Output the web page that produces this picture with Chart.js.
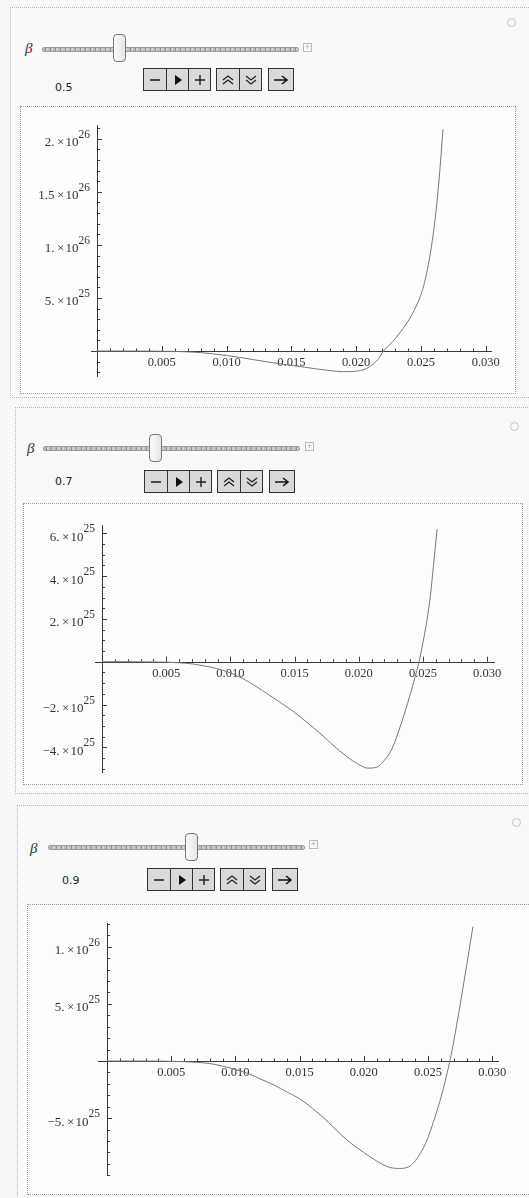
<!DOCTYPE html>
<html>
<head>
<meta charset="utf-8">
<script src="https://cdn.jsdelivr.net/npm/chart.js@4.4.1/dist/chart.umd.min.js"></script>
<style>
  body { margin:0; width:529px; height:1198px; background:#f7f7f6; position:relative; overflow:hidden; font-family:"DejaVu Sans", sans-serif; }
  .outer { position:absolute; border:1px dotted #b8b8b8; border-right:none; background:#f9f9f8; }
  .inner { position:absolute; border:1px dotted #9a9a9a; background:#fdfdfd; }
  .beta { position:absolute; font-family:"Liberation Serif", serif; font-style:italic; font-size:15px; color:#333; }
  .track { position:absolute; height:3px; border:1px solid #9c9c9c; border-radius:2px;
           background:repeating-linear-gradient(90deg,#bdbdbd 0 2px,#8f8f8f 2px 3px,#cfcfcf 3px 5px); }
  .thumb { position:absolute; width:11px; height:26px; border:1px solid #777; border-radius:4px;
           background:linear-gradient(90deg,#fafafa,#e6e6e6); }
  .plusbox { position:absolute; width:7px; height:7px; border:1px solid #bbb; font-size:7px; line-height:7px; text-align:center; color:#aaa; }
  .val { position:absolute; font-size:11px; color:#222; }
  .grp { position:absolute; display:flex; border:1.5px solid #333; height:21px; background:#d9d9d9; }
  .btn { width:22px; height:21px; display:flex; align-items:center; justify-content:center; border-left:1px solid #333; box-sizing:border-box; }
  .btn:first-child { border-left:none; }
  .circ { position:absolute; width:7px; height:7px; border:1px solid #c4c4c4; border-radius:50%; }
  canvas { position:absolute; }
</style>
</head>
<body>

<div class="outer" style="left:10px;top:7px;width:530px;height:389px"></div>
<div class="outer" style="left:15px;top:407px;width:530px;height:385px"></div>
<div class="outer" style="left:17px;top:805px;width:530px;height:400px"></div>

<div class="inner" style="left:20px;top:106px;width:494px;height:286px"></div>
<div class="inner" style="left:23px;top:503px;width:498px;height:280px"></div>
<div class="inner" style="left:27px;top:904px;width:510px;height:289px"></div>

<div id="controls"></div>

<canvas id="c1" width="494" height="286" style="left:20px;top:106px"></canvas>
<canvas id="c2" width="498" height="280" style="left:23px;top:503px"></canvas>
<canvas id="c3" width="500" height="289" style="left:27px;top:904px"></canvas>

<script>
// β values shown in the three panels
const betaValues = ['0.5', '0.7', '0.9']

// x tick labels (shared by all three plots)
const xTicks = [0.005, 0.010, 0.015, 0.020, 0.025, 0.030]
const xTickLabels = ['0.005', '0.010', '0.015', '0.020', '0.025', '0.030']

// y values are stored in units of 1e25
const UNIT = 1e25

// β = 0.5
const xs1 = [0, 0.002, 0.004, 0.006, 0.007, 0.008, 0.009, 0.010, 0.011, 0.012, 0.013, 0.014, 0.015, 0.016, 0.017,
  0.018, 0.019, 0.020, 0.0207, 0.0213, 0.0218, 0.0221, 0.0226, 0.0231, 0.0236, 0.0241, 0.0245, 0.0249, 0.0252,
  0.0255, 0.0258, 0.0261, 0.0264, 0.0267]
const ys1 = [0, 0, -0.01, -0.04, -0.08, -0.15, -0.28, -0.42, -0.6, -0.8, -1.0, -1.18, -1.35, -1.52, -1.7,
  -1.85, -1.95, -1.9, -1.7, -1.25, -0.6, 0, 0.6, 1.3, 2.1, 3.0, 3.9, 5.0, 6.1,
  7.7, 9.8, 12.5, 16.2, 20.9]

// β = 0.7
const xs2 = [0, 0.002, 0.004, 0.005, 0.006, 0.007, 0.008, 0.009, 0.010, 0.011, 0.012, 0.013, 0.014, 0.015, 0.016,
  0.017, 0.018, 0.019, 0.020, 0.0207, 0.0214, 0.022, 0.0226, 0.0233, 0.0238, 0.0243, 0.0247, 0.025, 0.0253,
  0.0256, 0.0258, 0.0261]
const ys2 = [0, 0, -0.01, -0.02, -0.05, -0.1, -0.2, -0.33, -0.52, -0.8, -1.15, -1.55, -1.95, -2.37, -2.85,
  -3.35, -3.9, -4.4, -4.8, -4.97, -4.93, -4.6, -4.05, -2.9, -1.95, -0.9, 0, 0.9, 1.9,
  3.2, 4.4, 6.2]

// β = 0.9
const xs3 = [0, 0.002, 0.004, 0.005, 0.006, 0.007, 0.008, 0.009, 0.010, 0.011, 0.012, 0.013, 0.014, 0.015, 0.016,
  0.017, 0.018, 0.019, 0.020, 0.021, 0.022, 0.0228, 0.0237, 0.0246, 0.0250, 0.0254, 0.0258, 0.0262, 0.0265,
  0.0268, 0.0271, 0.0275, 0.0279, 0.0285]
const ys3 = [0, 0, -0.01, -0.03, -0.06, -0.12, -0.22, -0.45, -0.75, -1.1, -1.6, -2.1, -2.7, -3.3, -4.15,
  -5.1, -6.2, -7.2, -8.0, -8.75, -9.3, -9.4, -9.1, -7.7, -6.7, -5.4, -4.0, -2.4, -1.0,
  0.5, 2.3, 4.9, 7.6, 11.75]

// y tick marks: value, mantissa, exponent
const yTicks1 = [5e25, 1e26, 1.5e26, 2e26]
const yMant1 = ['5.', '1.', '1.5', '2.']
const yExp1 = ['25', '26', '26', '26']

const yTicks2 = [-4e25, -2e25, 2e25, 4e25, 6e25]
const yMant2 = ['\u22124.', '\u22122.', '2.', '4.', '6.']
const yExp2 = ['25', '25', '25', '25', '25']

const yTicks3 = [-5e25, 5e25, 1e26]
const yMant3 = ['\u22125.', '5.', '1.']
const yExp3 = ['25', '25', '26']

// ---- controls (slider + animator buttons), plain DOM
const panels = [
  {beta: [25, 40], track: [42, 47, 255], thumb: [113, 34], plus: [303, 43], val: [55, 81], btn: [143, 68], circ: [507, 18]},
  {beta: [27, 440], track: [43, 446, 255], thumb: [149, 434], plus: [305, 442], val: [55, 475], btn: [144, 470], circ: [510, 422]},
  {beta: [30, 840], track: [48, 845, 255], thumb: [185, 833], plus: [309, 840], val: [62, 874], btn: [147, 868], circ: [512, 818]}
]

const chev = (up) => up
  ? '<svg width="12" height="12"><path d="M1 6 L6 2 L11 6 M1 10 L6 6 L11 10" stroke="#222" stroke-width="1.3" fill="none"/></svg>'
  : '<svg width="12" height="12"><path d="M1 2 L6 6 L11 2 M1 6 L6 10 L11 6" stroke="#222" stroke-width="1.3" fill="none"/></svg>'
const minus = '<svg width="12" height="12"><path d="M1 6 H11" stroke="#222" stroke-width="1.6"/></svg>'
const play = '<svg width="10" height="12"><path d="M2 1 L9 6 L2 11 Z" fill="#111"/></svg>'
const plus = '<svg width="12" height="12"><path d="M1 6 H11 M6 1 V11" stroke="#222" stroke-width="1.4"/></svg>'
const arrow = '<svg width="16" height="12"><path d="M1 6 H13 M9 2 L14 6 L9 10" stroke="#111" stroke-width="1.5" fill="none"/></svg>'

let html = ''
panels.forEach((p, i) => {
  const bx = p.btn[0], by = p.btn[1]
  html += `<div class="beta" style="left:${p.beta[0]}px;top:${p.beta[1]}px">\u03b2</div>`
  html += `<div class="track" style="left:${p.track[0]}px;top:${p.track[1]}px;width:${p.track[2]}px"></div>`
  html += `<div class="thumb" style="left:${p.thumb[0]}px;top:${p.thumb[1]}px"></div>`
  html += `<div class="plusbox" style="left:${p.plus[0]}px;top:${p.plus[1]}px">+</div>`
  html += `<div class="val" style="left:${p.val[0]}px;top:${p.val[1]}px">${betaValues[i]}</div>`
  html += `<div class="grp" style="left:${bx}px;top:${by}px"><div class="btn">${minus}</div><div class="btn">${play}</div><div class="btn">${plus}</div></div>`
  html += `<div class="grp" style="left:${bx + 73}px;top:${by}px"><div class="btn">${chev(true)}</div><div class="btn">${chev(false)}</div></div>`
  html += `<div class="grp" style="left:${bx + 125}px;top:${by}px"><div class="btn" style="width:24px">${arrow}</div></div>`
  html += `<div class="circ" style="left:${p.circ[0]}px;top:${p.circ[1]}px"></div>`
})
document.getElementById('controls').innerHTML = html

// ---- Mathematica-style axes through the origin
const mmaAxes = {
  id: 'mmaAxes',
  beforeDatasetsDraw(chart, args, o) {
    const {ctx, chartArea: a, scales: {x, y}} = chart
    const x0 = x.getPixelForValue(0), y0 = y.getPixelForValue(0)
    ctx.save()
    ctx.strokeStyle = '#3a3a3a'
    ctx.lineWidth = 1
    ctx.beginPath()
    ctx.moveTo(a.left, Math.round(y0) + 0.5); ctx.lineTo(a.right, Math.round(y0) + 0.5)
    ctx.moveTo(Math.round(x0) + 0.5, a.top); ctx.lineTo(Math.round(x0) + 0.5, a.bottom)
    // x minor + major ticks
    const xStep = 0.001
    for (let k = Math.ceil(x.min / xStep); k * xStep <= x.max; k++) {
      if (k === 0) continue
      const px = Math.round(x.getPixelForValue(k * xStep)) + 0.5
      const len = k % 5 === 0 ? 5 : 2.5
      ctx.moveTo(px, y0); ctx.lineTo(px, y0 - len)
    }
    // y minor + major ticks
    const ys = o.yMinor
    for (let k = Math.ceil(y.min / ys); k * ys <= y.max; k++) {
      if (k === 0) continue
      const v = k * ys
      const py = Math.round(y.getPixelForValue(v)) + 0.5
      const major = o.yTicks.some(t => Math.abs(t - v) < ys / 10)
      ctx.moveTo(x0, py); ctx.lineTo(x0 + (major ? 5 : 3), py)
    }
    ctx.stroke()

    ctx.fillStyle = '#333'
    ctx.font = '12.5px "Liberation Serif", serif'
    ctx.textAlign = 'center'
    ctx.textBaseline = 'middle'
    xTicks.forEach((t, i) => {
      ctx.fillText(xTickLabels[i], x.getPixelForValue(t), y0 + 12)
    })
    ctx.textAlign = 'right'
    o.yTicks.forEach((t, i) => {
      const py = y.getPixelForValue(t)
      const right = x0 - 7
      ctx.font = '11.5px "Liberation Serif", serif'
      const ew = ctx.measureText(o.yExp[i]).width
      ctx.fillText(o.yExp[i], right, py - 4)
      ctx.font = '13px "Liberation Serif", serif'
      ctx.fillText(o.yMant[i] + '\u2009\u00d7\u200a10', right - ew, py + 4)
    })
    ctx.restore()
  }
}

const makeChart = (id, xs, ys, lim, pad, ax) => {
  return new Chart(document.getElementById(id), {
    type: 'line',
    data: {
      datasets: [{
        data: xs.map((v, i) => ({x: v, y: ys[i] * UNIT})),
        borderColor: '#777',
        borderWidth: 1,
        pointRadius: 0,
        cubicInterpolationMode: 'monotone',
        fill: false
      }]
    },
    options: {
      responsive: false,
      animation: false,
      layout: {padding: pad},
      plugins: {legend: {display: false}, tooltip: {enabled: false}, mmaAxes: ax},
      scales: {
        x: {type: 'linear', min: lim[0], max: lim[1], display: false},
        y: {type: 'linear', min: lim[2], max: lim[3], display: false}
      }
    },
    plugins: [mmaAxes]
  })
}

makeChart('c1', xs1, ys1, [-0.000463, 0.03048, -2.45e25, 2.13e26],
  {left: 71, right: 22, top: 19, bottom: 15},
  {yTicks: yTicks1, yMant: yMant1, yExp: yExp1, yMinor: 1e25})

makeChart('c2', xs2, ys2, [-0.000545, 0.03061, -5.2e25, 6.39e25],
  {left: 72, right: 26, top: 22, bottom: 10},
  {yTicks: yTicks2, yMant: yMant2, yExp: yExp2, yMinor: 0.5e25})

makeChart('c3', xs3, ys3, [-0.0007, 0.03053, -1.006e26, 1.207e26],
  {left: 71, right: 28, top: 19, bottom: 17},
  {yTicks: yTicks3, yMant: yMant3, yExp: yExp3, yMinor: 1e25})
</script>
</body>
</html>
